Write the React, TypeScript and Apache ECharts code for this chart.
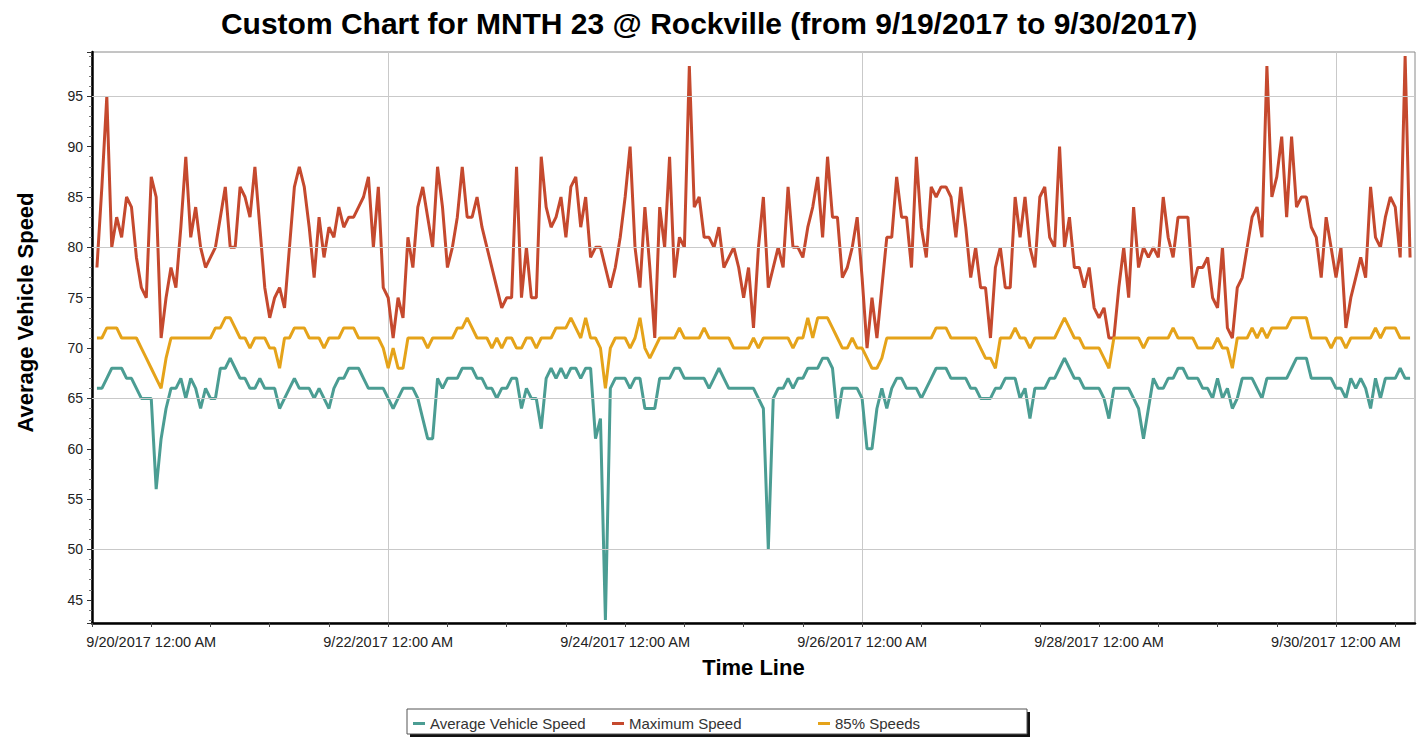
import React, { useEffect, useRef } from "react";
import * as echarts from "echarts";

// Hourly readings, 9/19/2017 1:00 PM .. 9/30/2017 3:00 PM
const avgSpeed: number[] = [
  66, 66, 67, 68, 68, 68, 67, 67, 66, 65, 65,
  65, 56, 61, 64, 66, 66, 67, 65, 67, 66,
  64, 66, 65, 65, 68, 68, 69, 68, 67, 67,
  66, 66, 67, 66, 66, 66, 64, 65, 66, 67,
  66, 66, 66, 65, 66, 65, 64, 66, 67, 67,
  68, 68, 68, 67, 66, 66, 66, 66, 65, 64,
  65, 66, 66, 66, 65, 63, 61, 61, 67, 66,
  67, 67, 67, 68, 68, 68, 67, 67, 66, 66,
  65, 66, 66, 67, 67, 64, 66, 65, 65, 62,
  67, 68, 67, 68, 67, 68, 68, 67, 68, 68,
  61, 63, 43, 66, 67, 67, 67, 66, 67, 67,
  64, 64, 64, 67, 67, 67, 68, 68, 67, 67,
  67, 67, 67, 66, 67, 68, 67, 66, 66, 66,
  66, 66, 66, 65, 64, 50, 65, 66, 66, 67,
  66, 67, 67, 68, 68, 68, 69, 69, 68, 63,
  66, 66, 66, 66, 65, 60, 60, 64, 66, 64,
  66, 67, 67, 66, 66, 66, 65, 66, 67, 68,
  68, 68, 67, 67, 67, 67, 66, 66, 65, 65,
  65, 66, 66, 67, 67, 67, 65, 66, 63, 66,
  66, 66, 67, 67, 68, 69, 68, 67, 67, 66,
  66, 66, 66, 65, 63, 66, 66, 66, 66, 65,
  64, 61, 64, 67, 66, 66, 67, 67, 68, 68,
  67, 67, 67, 66, 66, 65, 67, 65, 66, 64,
  65, 67, 67, 67, 66, 65, 67, 67, 67, 67,
  67, 68, 69, 69, 69, 67, 67, 67, 67, 67,
  66, 66, 65, 67, 66, 67, 66, 64, 67, 65,
  67, 67, 67, 68, 67, 67,
];

const maxSpeed: number[] = [
  78, 86, 95, 80, 83, 81, 85, 84, 79, 76, 75,
  87, 85, 71, 75, 78, 76, 82, 89, 81, 84,
  80, 78, 79, 80, 83, 86, 80, 80, 86, 85,
  83, 88, 82, 76, 73, 75, 76, 74, 80, 86,
  88, 86, 82, 77, 83, 79, 82, 81, 84, 82,
  83, 83, 84, 85, 87, 80, 86, 76, 75, 71,
  75, 73, 81, 78, 84, 86, 83, 80, 88, 84,
  78, 80, 83, 88, 83, 83, 85, 82, 80, 78,
  76, 74, 75, 75, 88, 75, 80, 75, 75, 89,
  84, 82, 83, 85, 81, 86, 87, 82, 85, 79,
  80, 80, 78, 76, 78, 81, 85, 90, 80, 76,
  84, 78, 71, 84, 80, 89, 77, 81, 80, 98,
  84, 85, 81, 81, 80, 82, 78, 79, 80, 78,
  75, 78, 72, 80, 85, 76, 78, 80, 78, 86,
  80, 80, 79, 82, 84, 87, 81, 89, 83, 83,
  77, 78, 80, 83, 77, 70, 75, 71, 76, 81,
  81, 87, 83, 83, 78, 89, 82, 79, 86, 85,
  86, 86, 85, 81, 86, 82, 77, 80, 76, 76,
  71, 78, 80, 76, 76, 85, 81, 85, 80, 78,
  85, 86, 81, 80, 90, 80, 83, 78, 78, 76,
  78, 74, 73, 74, 71, 71, 76, 80, 75, 84,
  78, 80, 79, 80, 79, 85, 81, 79, 83, 83,
  83, 76, 78, 78, 79, 75, 74, 80, 72, 71,
  76, 77, 80, 83, 84, 81, 98, 85, 87, 91,
  83, 91, 84, 85, 85, 82, 81, 77, 83, 80,
  77, 80, 72, 75, 77, 79, 77, 86, 81, 80,
  83, 85, 84, 79, 99, 79,
];

const p85Speed: number[] = [
  71, 71, 72, 72, 72, 71, 71, 71, 71, 70, 69,
  68, 67, 66, 69, 71, 71, 71, 71, 71, 71,
  71, 71, 71, 72, 72, 73, 73, 72, 71, 71,
  70, 71, 71, 71, 70, 70, 68, 71, 71, 72,
  72, 72, 71, 71, 71, 70, 71, 71, 71, 72,
  72, 72, 71, 71, 71, 71, 71, 70, 68, 70,
  68, 68, 71, 71, 71, 71, 70, 71, 71, 71,
  71, 71, 72, 72, 73, 72, 71, 71, 71, 70,
  71, 70, 71, 71, 70, 70, 71, 71, 70, 71,
  71, 71, 72, 72, 72, 73, 72, 71, 73, 71,
  71, 70, 66, 70, 71, 71, 71, 70, 71, 73,
  70, 69, 70, 71, 71, 71, 71, 72, 71, 71,
  71, 71, 72, 71, 71, 71, 71, 71, 70, 70,
  70, 70, 71, 70, 71, 71, 71, 71, 71, 71,
  70, 71, 71, 73, 71, 73, 73, 73, 72, 71,
  70, 70, 71, 70, 70, 69, 68, 68, 69, 71,
  71, 71, 71, 71, 71, 71, 71, 71, 71, 72,
  72, 72, 71, 71, 71, 71, 71, 71, 70, 69,
  69, 68, 71, 71, 71, 72, 71, 71, 70, 71,
  71, 71, 71, 71, 72, 73, 72, 71, 71, 70,
  70, 70, 70, 69, 68, 71, 71, 71, 71, 71,
  71, 70, 71, 71, 71, 71, 71, 72, 71, 71,
  71, 71, 70, 70, 70, 70, 71, 70, 70, 68,
  71, 71, 71, 72, 71, 72, 71, 72, 72, 72,
  72, 73, 73, 73, 73, 71, 71, 71, 71, 70,
  71, 71, 70, 71, 71, 71, 71, 71, 72, 71,
  72, 72, 72, 71, 71, 71,
];

const seriesNames = ["Average Vehicle Speed", "Maximum Speed", "85% Speeds"];
const seriesColors = ["#4b9d93", "#c5492e", "#e5a31a"];
const gridLineValues = [50, 65, 80, 95];

// axis runs hourly from 9/19/2017 12:00 PM; one empty hour padding at each end
const AXIS_START = Date.UTC(2017, 8, 19, 12, 0);
const HOUR = 3600000;
const timeStamps: number[] = Array.from({ length: avgSpeed.length + 2 }, (_, i) => AXIS_START + i * HOUR);

function fmt(ts: number): string {
  const d = new Date(ts);
  const h = d.getUTCHours();
  const h12 = h % 12 === 0 ? 12 : h % 12;
  const ap = h < 12 ? "AM" : "PM";
  const mm = String(d.getUTCMinutes()).padStart(2, "0");
  return `${d.getUTCMonth() + 1}/${d.getUTCDate()}/${d.getUTCFullYear()} ${h12}:${mm} ${ap}`;
}
const categories: string[] = timeStamps.map(fmt);

const isLabel = (i: number) => {
  const d = new Date(timeStamps[i]);
  return d.getUTCHours() === 0 && d.getUTCDate() % 2 === 0;
};
const isTick = (i: number) => new Date(timeStamps[i]).getUTCHours() % 12 === 0;
const isVGrid = (i: number) => {
  const d = new Date(timeStamps[i]);
  return d.getUTCHours() === 0 && d.getUTCDate() % 4 === 2;
};

const pad = (arr: number[]) => [null, ...arr, null];

const FONT = "'Liberation Sans', Arial, Helvetica, sans-serif";

export default function App() {
  const ref = useRef<HTMLDivElement>(null);
  useEffect(() => {
    if (!ref.current) return;
    const chart = echarts.init(ref.current, null, { renderer: "svg" });
    const legendCommon = {
      top: 716,
      padding: 0,
      icon: "rect",
      itemWidth: 12,
      itemHeight: 3,
      textStyle: { fontSize: 15, color: "#333", fontFamily: FONT },
      selectedMode: false,
    };
    chart.setOption({
      animation: false,
      backgroundColor: "#fff",
      title: {
        text: "Custom Chart for MNTH 23 @ Rockville (from 9/19/2017 to 9/30/2017)",
        left: "center",
        top: 3,
        textStyle: { fontSize: 30, fontWeight: "bold", color: "#000", fontFamily: FONT },
      },
      grid: {
        left: 92,
        right: 3,
        top: 52,
        bottom: 116,
        show: true,
        borderColor: "#8a8a8a",
        borderWidth: 1,
      },
      legend: [
        { ...legendCommon, data: [seriesNames[0]], left: 413 },
        { ...legendCommon, data: [seriesNames[1]], left: 612 },
        { ...legendCommon, data: [seriesNames[2]], left: 818 },
      ],
      graphic: [
        { type: "rect", z: 0, shape: { x: 410, y: 712, width: 620, height: 25 }, style: { fill: "#111" } },
        { type: "rect", z: 1, shape: { x: 407, y: 709, width: 620, height: 25 }, style: { fill: "#fff", stroke: "#555", lineWidth: 1 } },
      ],
      xAxis: {
        type: "category",
        data: categories,
        boundaryGap: false,
        name: "Time Line",
        nameLocation: "middle",
        nameGap: 33,
        nameTextStyle: { fontSize: 22, fontWeight: "bold", color: "#000", fontFamily: FONT },
        axisLine: { lineStyle: { color: "#000", width: 2.5 } },
        axisTick: { show: true, interval: (i: number) => isTick(i), length: 4, lineStyle: { color: "#444" } },
        axisLabel: {
          interval: (i: number) => isLabel(i),
          fontSize: 14.5,
          color: "#222",
          margin: 11,
          fontFamily: FONT,
        },
        splitLine: { show: true, interval: (i: number) => isVGrid(i), lineStyle: { color: "#c9c9c9", width: 1 } },
      },
      yAxis: {
        type: "value",
        min: 42.7,
        max: 99.4,
        splitNumber: 11,
        name: "Average Vehicle Speed",
        nameLocation: "middle",
        nameGap: 56,
        nameTextStyle: { fontSize: 22, fontWeight: "bold", color: "#000", fontFamily: FONT, padding: [0, 0, 0, 50] },
        axisLine: { show: true, lineStyle: { color: "#000", width: 2.5 } },
        axisTick: { show: true, length: 5, lineStyle: { color: "#333" } },
        minorTick: { show: true, splitNumber: 5, length: 3, lineStyle: { color: "#777" } },
        axisLabel: { fontSize: 14, color: "#222", margin: 9, showMinLabel: false, showMaxLabel: false, fontFamily: FONT },
        splitLine: { show: false },
      },
      series: [
        {
          name: "grid",
          type: "line",
          data: categories.map(() => null),
          silent: true,
          showSymbol: false,
          markLine: {
            silent: true,
            symbol: ["none", "none"],
            label: { show: false },
            lineStyle: { color: "#c9c9c9", width: 1, type: "solid" },
            data: gridLineValues.map((v) => ({ yAxis: v })),
          },
        },
        ...seriesNames.map((name, k) => ({
          name,
          type: "line",
          data: pad([avgSpeed, maxSpeed, p85Speed][k]),
          showSymbol: false,
          symbol: "none",
          color: seriesColors[k],
          lineStyle: { width: 3, color: seriesColors[k] },
          emphasis: { disabled: true },
        })),
      ],
    });
    return () => chart.dispose();
  }, []);
  return <div ref={ref} style={{ position: "fixed", left: 0, top: 0, width: 1418, height: 739 }} />;
}
